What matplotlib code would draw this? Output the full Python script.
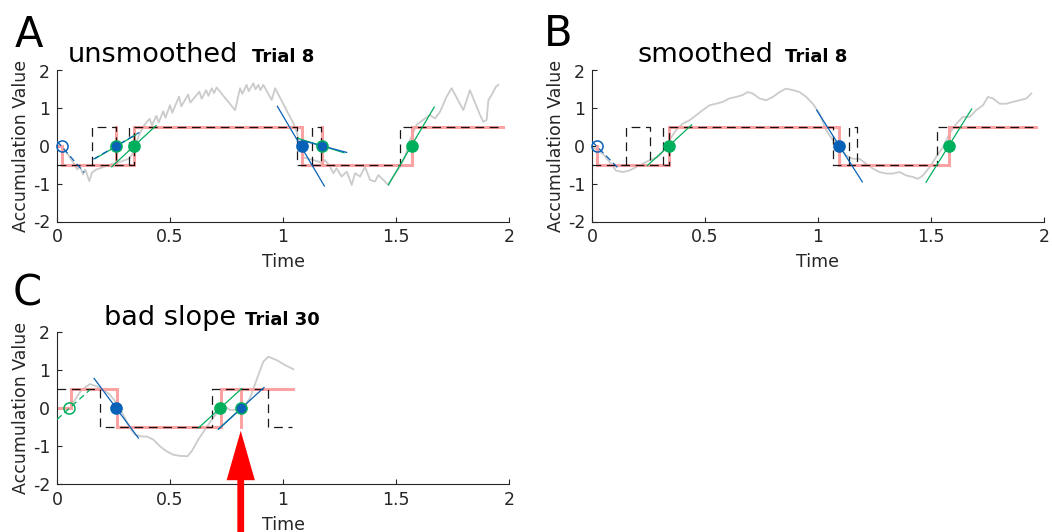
import matplotlib
matplotlib.use('Agg')
import matplotlib.pyplot as plt
from matplotlib.patches import FancyArrow

plt.rcParams['font.family'] = ['DejaVu Sans']
plt.rcParams['axes.unicode_minus'] = False

# ---------------- data ----------------
x_ticks = [0, 0.5, 1, 1.5, 2]
x_tick_labels = ['0', '0.5', '1', '1.5', '2']
y_ticks = [-2, -1, 0, 1, 2]
y_tick_labels = ['-2', '-1', '0', '1', '2']

# Panel A (unsmoothed, trial 8)
gray_A_t = [0.000, 0.020, 0.045, 0.070, 0.090, 0.100, 0.115, 0.125, 0.143, 0.155, 0.175, 0.200,
            0.230, 0.260, 0.290, 0.320, 0.340, 0.360, 0.380, 0.395, 0.410, 0.420, 0.440, 0.450,
            0.470, 0.480, 0.500, 0.510, 0.540, 0.550, 0.580, 0.590, 0.630, 0.640, 0.660, 0.670,
            0.685, 0.695, 0.706, 0.788, 0.810, 0.820, 0.839, 0.848, 0.869, 0.878, 0.891, 0.900,
            0.913, 0.950, 0.965, 1.046, 1.060, 1.075, 1.090, 1.120, 1.150, 1.175, 1.186, 1.208,
            1.223, 1.237, 1.259, 1.282, 1.304, 1.319, 1.341, 1.363, 1.385, 1.407, 1.422, 1.444,
            1.466, 1.488, 1.518, 1.540, 1.562, 1.591, 1.628, 1.650, 1.673, 1.695, 1.724, 1.746,
            1.798, 1.813, 1.827, 1.872, 1.886, 1.901, 1.909, 1.923, 1.931, 1.942, 1.953]
gray_A_v = [0.10, 0.00, -0.20, -0.42, -0.62, -0.52, -0.75, -0.62, -0.93, -0.70, -0.62, -0.57,
            -0.50, -0.45, -0.40, -0.33, -0.15, 0.25, 0.50, 0.62, 0.72, 0.55, 0.80, 0.62,
            0.92, 0.75, 1.08, 0.88, 1.31, 1.05, 1.36, 1.15, 1.44, 1.25, 1.48, 1.33,
            1.53, 1.40, 1.55, 0.95, 1.53, 1.38, 1.62, 1.45, 1.66, 1.50, 1.62, 1.48,
            1.62, 1.22, 1.53, 0.60, 0.38, 0.05, -0.30, -0.35, -0.40, -0.45, -0.37, -0.55,
            -0.72, -0.59, -0.81, -0.68, -1.03, -0.72, -0.81, -0.55, -0.90, -0.94, -0.77, -0.90,
            -1.03, -0.81, -0.55, -0.28, 0.16, 0.56, 0.73, 0.82, 0.73, 0.91, 1.31, 1.53,
            0.95, 1.22, 1.48, 0.82, 0.64, 0.69, 1.22, 1.35, 1.44, 1.57, 1.62]
pink_A_t = [0.0, 0.02, 0.02, 0.341, 0.341, 1.083, 1.083, 1.572, 1.572, 1.972]
pink_A_v = [0.0, 0.0, -0.5, -0.5, 0.5, 0.5, -0.5, -0.5, 0.5, 0.5]
pink_A_extra = [0.26, 1.174]
dash_A_t = [0.0, 0.341, 0.341, 1.061, 1.061, 1.518, 1.518, 1.972]
dash_A_v = [-0.5, -0.5, 0.5, 0.5, -0.5, -0.5, 0.5, 0.5]
dash_A_boxes = [(0.153, 0.26), (1.13, 1.167)]
dash_A_vlines = [0.318]
tangents_A = [  # t0, v0, t1, v1, colour, style
    (0.00, 0.13, 0.12, -0.70, 'blue', '--'),
    (0.17, -0.33, 0.35, 0.30, 'green', '-'),
    (0.161, -0.35, 0.364, 0.36, 'blue', '--'),
    (0.242, -0.55, 0.438, 0.54, 'green', '-'),
    (0.975, 1.05, 1.183, -1.06, 'blue', '-'),
    (1.068, 0.20, 1.27, -0.18, 'green', '-'),
    (1.10, 0.12, 1.282, -0.17, 'blue', '-'),
    (1.466, -1.03, 1.669, 1.03, 'green', '-'),
]
markers_A = [  # t, v, face, edge
    (0.02, 0, 'none', 'blue'),
    (0.26, 0, 'blue', 'green'),
    (0.341, 0, 'green', 'green'),
    (1.083, 0, 'blue', 'blue'),
    (1.174, 0, 'blue', 'green'),
    (1.569, 0, 'green', 'green'),
]

# Panel B (smoothed, trial 8)
gray_B_t = [0.003, 0.047, 0.084, 0.106, 0.136, 0.165, 0.195, 0.224, 0.254, 0.291, 0.313, 0.342,
            0.372, 0.401, 0.431, 0.460, 0.490, 0.520, 0.549, 0.579, 0.608, 0.638, 0.667, 0.689,
            0.711, 0.741, 0.770, 0.800, 0.830, 0.859, 0.889, 0.918, 0.948, 0.977, 1.007, 1.036,
            1.066, 1.095, 1.125, 1.154, 1.184, 1.213, 1.243, 1.272, 1.302, 1.331, 1.361, 1.390,
            1.420, 1.442, 1.464, 1.494, 1.523, 1.553, 1.582, 1.612, 1.641, 1.671, 1.700, 1.730,
            1.752, 1.774, 1.804, 1.833, 1.863, 1.892, 1.922, 1.944]
gray_B_v = [-0.03, -0.20, -0.47, -0.65, -0.69, -0.65, -0.56, -0.47, -0.38, -0.29, -0.16, 0.15,
            0.42, 0.59, 0.68, 0.81, 0.95, 1.08, 1.12, 1.17, 1.26, 1.30, 1.35, 1.43,
            1.39, 1.26, 1.21, 1.30, 1.43, 1.52, 1.48, 1.43, 1.30, 1.12, 0.86, 0.42,
            0.15, -0.03, -0.25, -0.34, -0.34, -0.47, -0.60, -0.69, -0.73, -0.73, -0.69, -0.78,
            -0.82, -0.87, -0.78, -0.56, -0.29, -0.03, 0.33, 0.59, 0.77, 0.77, 0.95, 1.08,
            1.30, 1.26, 1.12, 1.12, 1.17, 1.21, 1.26, 1.39]
pink_B_t = [0.02, 0.02, 0.339, 0.339, 1.094, 1.094, 1.578, 1.578, 1.965]
pink_B_v = [0.0, -0.5, -0.5, 0.5, 0.5, -0.5, -0.5, 0.5, 0.5]
pink_B_extra = []
dash_B_t = [0.0, 0.339, 0.339, 1.065, 1.065, 1.525, 1.525, 1.965]
dash_B_v = [-0.5, -0.5, 0.5, 0.5, -0.5, -0.5, 0.5, 0.5]
dash_B_boxes = [(0.15, 0.258), (1.139, 1.174)]
dash_B_vlines = [0.316]
tangents_B = [
    (0.00, 0.12, 0.118, -0.60, 'blue', '--'),
    (0.245, -0.52, 0.441, 0.56, 'green', '-'),
    (0.994, 0.95, 1.196, -0.95, 'blue', '-'),
    (1.478, -0.96, 1.68, 0.98, 'green', '-'),
]
markers_B = [
    (0.021, 0, 'none', 'blue'),
    (0.342, 0, 'green', 'green'),
    (1.094, 0, 'blue', 'blue'),
    (1.578, 0, 'green', 'green'),
]

# Panel C (bad slope, trial 30)
gray_C_t = [0.060, 0.080, 0.109, 0.146, 0.175, 0.205, 0.234, 0.264, 0.293, 0.323, 0.345, 0.375,
            0.397, 0.426, 0.456, 0.485, 0.515, 0.544, 0.577, 0.596, 0.625, 0.655, 0.684, 0.714,
            0.743, 0.765, 0.817, 0.854, 0.883, 0.913, 0.935, 0.972, 1.009, 1.046]
gray_C_v = [0.00, 0.22, 0.48, 0.63, 0.57, 0.48, 0.35, 0.13, -0.18, -0.53, -0.70, -0.75,
            -0.75, -0.83, -1.01, -1.14, -1.23, -1.26, -1.27, -1.14, -0.83, -0.57, -0.31, -0.09,
            0.04, -0.05, -0.05, 0.26, 0.74, 1.22, 1.35, 1.26, 1.13, 1.02]
pink_C_t = [0.0, 0.06, 0.06, 0.267, 0.267, 0.725, 0.725, 1.046]
pink_C_v = [0.0, 0.0, 0.5, 0.5, -0.5, -0.5, 0.5, 0.5]
pink_C_extra = [0.815]
dash_C_t = [0.0, 0.19, 0.19, 0.684, 0.684, 0.935, 0.935, 1.038]
dash_C_v = [0.5, 0.5, -0.5, -0.5, 0.5, 0.5, -0.5, -0.5]
dash_C_boxes = []
dash_C_vlines = []
tangents_C = [
    (0.00, -0.30, 0.146, 0.48, 'green', '--'),
    (0.164, 0.78, 0.36, -0.79, 'blue', '-'),
    (0.625, -0.53, 0.817, 0.51, 'green', '-'),
    (0.716, -0.55, 0.82, 0.02, 'green', '-'),
    (0.714, -0.56, 0.916, 0.54, 'blue', '-'),
]
markers_C = [
    (0.055, 0, 'none', 'green'),
    (0.261, 0, 'blue', 'blue'),
    (0.721, 0, 'green', 'green'),
    (0.813, 0, 'blue', 'green'),
]
arrow_C_t = 0.813

# ---------------- style ----------------
W, H = 1052, 532
PINK = '#FBA3A3'
GRAY = '#CBCBCB'
COL = {'blue': '#0862B8', 'green': '#00AF5C', 'none': 'none'}
AXC = '#262626'

fig = plt.figure(figsize=(W / 100, H / 100), dpi=100)


def ax_at(l, t, r, b):
    return fig.add_axes([l / W, 1 - b / H, (r - l) / W, (b - t) / H])


def style(ax):
    ax.set_xlim(0, 2)
    ax.set_ylim(-2, 2)
    ax.set_xticks(x_ticks)
    ax.set_xticklabels(x_tick_labels)
    ax.set_yticks(y_ticks)
    ax.set_yticklabels(y_tick_labels)
    for s in ['top', 'right']:
        ax.spines[s].set_visible(False)
    for s in ['left', 'bottom']:
        ax.spines[s].set_color(AXC)
        ax.spines[s].set_linewidth(0.8)
    ax.tick_params(direction='in', length=3.6, width=0.8, colors=AXC,
                   labelsize=12.5, pad=5)
    ax.set_xlabel('Time', fontsize=12.5, color=AXC, labelpad=5)
    ax.set_ylabel('Accumulation Value', fontsize=12.5, color=AXC, labelpad=2)
    ax.patch.set_visible(False)


def draw(ax, gt, gv, pt, pv, pextra, dt, dv, boxes, vlines, tangents, markers):
    ax.plot(gt, gv, color=GRAY, lw=1.3, zorder=1)
    ax.plot(pt, pv, color=PINK, lw=2.2, zorder=2, solid_joinstyle='miter')
    for t in pextra:
        ax.plot([t, t], [-0.5, 0.5], color=PINK, lw=2.2, zorder=2)
    dk = dict(color='black', lw=0.9, ls=(0, (7, 4.5)), zorder=3, alpha=0.9)
    ax.plot(dt, dv, **dk)
    for t0, t1 in boxes:
        ax.plot([t0, t0, t1, t1], [-0.5, 0.5, 0.5, -0.5], **dk)
    for t in vlines:
        ax.plot([t, t], [-0.5, 0.5], **dk)
    for t0, v0, t1, v1, c, ls in tangents:
        ax.plot([t0, t1], [v0, v1], color=COL[c], lw=0.9,
                ls=ls if ls == '-' else (0, (5, 3)), zorder=4)
    for t, v, face, edge in markers:
        ax.plot([t], [v], 'o', ms=8, mfc=COL[face], mec=COL[edge], mew=1.1,
                zorder=5, clip_on=False)


axA = ax_at(57, 70.5, 509, 221.5)
axB = ax_at(592, 70.5, 1044, 221.5)
axC = ax_at(57, 332, 509, 484)
for ax in (axA, axB, axC):
    style(ax)

draw(axA, gray_A_t, gray_A_v, pink_A_t, pink_A_v, pink_A_extra, dash_A_t, dash_A_v,
     dash_A_boxes, dash_A_vlines, tangents_A, markers_A)
draw(axB, gray_B_t, gray_B_v, pink_B_t, pink_B_v, pink_B_extra, dash_B_t, dash_B_v,
     dash_B_boxes, dash_B_vlines, tangents_B, markers_B)
draw(axC, gray_C_t, gray_C_v, pink_C_t, pink_C_v, pink_C_extra, dash_C_t, dash_C_v,
     dash_C_boxes, dash_C_vlines, tangents_C, markers_C)

arrow = FancyArrow(arrow_C_t, -3.3, 0, 2.7, width=0.03, head_width=0.125,
                   head_length=1.3, length_includes_head=True, color='#FF0000',
                   lw=0, clip_on=False, zorder=10)
axC.add_patch(arrow)


def ftext(x, y, s, **kw):
    fig.text(x / W, 1 - y / H, s, va='baseline', ha='left', **kw)


ftext(15, 47, 'A', fontsize=30)
ftext(544, 46, 'B', fontsize=30)
ftext(13, 306, 'C', fontsize=30)
ftext(68, 62, 'unsmoothed', fontsize=19.5)
ftext(252, 62, 'Trial 8', fontsize=13, fontweight='bold')
ftext(637.7, 61.7, 'smoothed', fontsize=19.5)
ftext(785.3, 61.7, 'Trial 8', fontsize=13, fontweight='bold')
ftext(104, 325.3, 'bad slope', fontsize=19.5)
ftext(245, 325.3, 'Trial 30', fontsize=13, fontweight='bold')

fig.savefig('out.png', dpi=100)
